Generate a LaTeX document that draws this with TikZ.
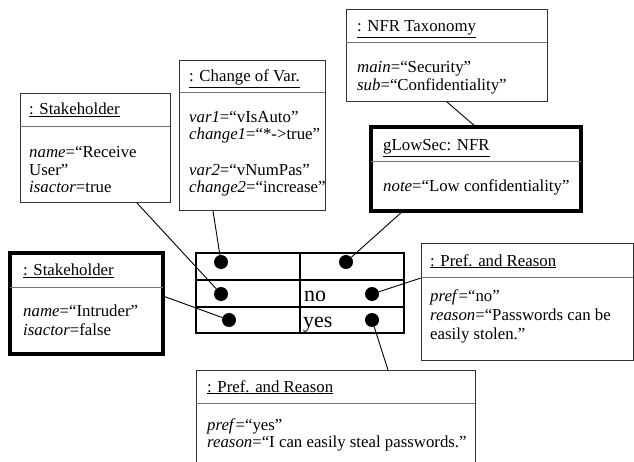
\documentclass[tikz,border=0pt]{standalone}
\usepackage{fontspec}
\setmainfont{Liberation Serif}
\usetikzlibrary{calc}
\begin{document}
\begin{tikzpicture}[x=1pt,y=-1pt,
 thinbox/.style={draw=black!80, line width=1pt, inner sep=0pt, outer sep=0pt, anchor=north west, rectangle},
 thickbox/.style={draw=black, line width=4.5pt, inner sep=0pt, outer sep=0pt, anchor=north west, rectangle},
 sepline/.style={draw=black!55, line width=1pt},
 conn/.style={draw=black, line width=0.9pt},
 txt/.style={inner sep=0pt, anchor=base west, font=\fontsize{16.8}{17.5}\selectfont},
 big/.style={inner sep=0pt, anchor=base west, font=\fontsize{22}{24}\selectfont},
 dot/.style={circle, fill=black, inner sep=0pt, minimum size=14pt},
 tbl/.style={draw=black, line width=2pt}]
\useasboundingbox (0,0) rectangle (634,462);
\clip (0,0) rectangle (634,462);

% boxes
\node[thinbox, minimum width=150pt, minimum height=109pt] (A) at (20,94) {};
\node[thinbox, minimum width=146pt, minimum height=150pt] (B) at (179,61) {};
\node[thinbox, minimum width=201pt, minimum height=92pt] (C) at (346,10) {};
\node[thickbox, minimum width=210pt, minimum height=84pt] (D) at (371,127) {};
\node[thinbox, minimum width=212pt, minimum height=116pt] (E) at (421,244) {};
\node[thinbox, minimum width=279pt, minimum height=130pt] (F) at (196,370) {};
\node[thickbox, minimum width=153pt, minimum height=101pt] (G) at (10,253) {};

% separators
\draw[sepline] ($(A.north west)+(0,33)$) -- ($(A.north east)+(0,33)$);
\draw[sepline] ($(B.north west)+(0,32)$) -- ($(B.north east)+(0,32)$);
\draw[sepline] ($(C.north west)+(0,33)$) -- ($(C.north east)+(0,33)$);
\draw[sepline] ($(D.north west)+(0,35)$) -- ($(D.north east)+(0,35)$);
\draw[sepline] ($(E.north west)+(0,33)$) -- ($(E.north east)+(0,33)$);
\draw[sepline] ($(F.north west)+(0,33)$) -- ($(F.north east)+(0,33)$);
\draw[sepline] ($(G.north west)+(0,34)$) -- ($(G.north east)+(0,34)$);

% texts A
\node[txt] (At) at (29,115) {\underline{: Stakeholder}};
\node[txt] (A1) at (29,158) {\textit{name}=“Receive};
\node[txt] (A2) at (29,176) {User”};
\node[txt] (A3) at (29,193) {\textit{isactor}=true};
% texts B
\node[txt] (Bt) at (189,82) {\underline{: Change of Var.}};
\node[txt] (B1) at (189,123) {\textit{var1}=“vIsAuto”};
\node[txt] (B2) at (189,140) {\textit{change1}=“*->true”};
\node[txt] (B3) at (189,175.5) {\textit{var2}=“vNumPas”};
\node[txt] (B4) at (189,193) {\textit{change2}=“increase”};
% texts C
\node[txt] (Ct) at (357,32) {\underline{: NFR Taxonomy}};
\node[txt] (C1) at (357,73) {\textit{main}=“Security”};
\node[txt] (C2) at (357,91) {\textit{sub}=“Confidentiality”};
% texts D
\node[txt] (Dt) at (383,151) {\underline{gLowSec: NFR}};
\node[txt] (D1) at (383,192) {\textit{note}=“Low confidentiality”};
% texts E
\node[txt] (Et) at (430,266) {\underline{: Pref. and Reason}};
\node[txt] (E1) at (430,301) {\textit{pref}=“no”};
\node[txt] (E2) at (430,320) {\textit{reason}=“Passwords can be};
\node[txt] (E3) at (430,339) {easily stolen.”};
% texts F
\node[txt] (Ft) at (207,392) {\underline{: Pref. and Reason}};
\node[txt] (F1) at (207,430) {\textit{pref}=“yes”};
\node[txt] (F2) at (207,447) {\textit{reason}=“I can easily steal passwords.”};
% texts G
\node[txt] (Gt) at (23,276) {\underline{: Stakeholder}};
\node[txt] (G1) at (23,316) {\textit{name}=“Intruder”};
\node[txt] (G2) at (23,335) {\textit{isactor}=false};

% table
\node[tbl, rectangle, anchor=north west, minimum width=208pt, minimum height=80pt, inner sep=0pt, outer sep=0pt] (T) at (196,253) {};
\draw[tbl] ($(T.north west)+(0,27)$) -- ($(T.north east)+(0,27)$);
\draw[tbl] ($(T.north west)+(0,54)$) -- ($(T.north east)+(0,54)$);
\draw[tbl] ($(T.north west)+(104,0)$) -- ($(T.south west)+(104,0)$);
\node[big] (no) at (304,301) {no};
\node[big] (yes) at (303,327) {yes};

% dots
\node[dot] (d11) at (221,262) {};
\node[dot] (d12) at (346,262) {};
\node[dot] (d21) at (221,294) {};
\node[dot] (d22) at (372,294) {};
\node[dot] (d31) at (229,320) {};
\node[dot] (d32) at (372,320) {};

% connectors
\draw[conn] ($(A.south west)+(117,0)$) -- (d21);
\draw[conn] ($(B.south west)+(34,0)$) -- (d11);
\draw[conn] ($(C.south west)+(101,0)$) -- ($(D.north west)+(105,0)$);
\draw[conn] ($(D.south west)+(32,0)$) -- (d12);
\draw[conn] ($(G.north east)+(0,43)$) -- (d31);
\draw[conn] ($(E.north west)+(0,34)$) -- (d22);
\draw[conn] (d32) -- ($(F.north west)+(192,0)$);
\end{tikzpicture}
\end{document}
